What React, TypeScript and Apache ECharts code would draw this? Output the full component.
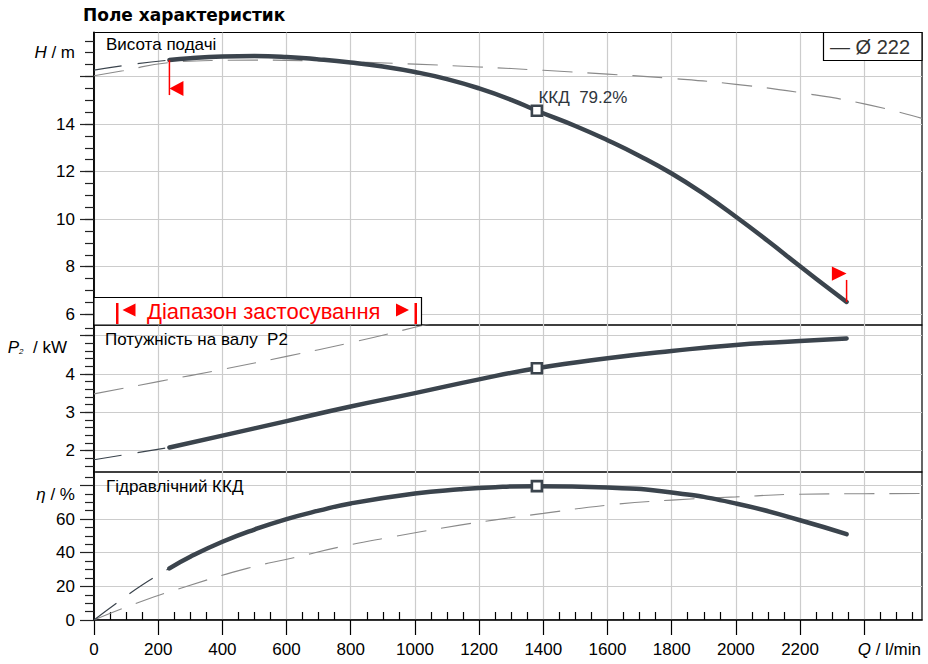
import React, { useEffect, useRef } from "react";
import * as echarts from "echarts";

// ---------- texts ----------
const TITLE = "Поле характеристик";
const PANEL_H = "Висота подачі";
const PANEL_P = "Потужність на валу  P2";
const PANEL_ETA = "Гідравлічний ККД";
const RANGE_TEXT = "Діапазон застосування";
const LEGEND_TEXT = "— Ø 222";
const BEP_TEXT = "ККД  79.2%";

// ---------- axes ----------
const Q_MIN = 0;
const Q_MAX = 2580;
const qTickLabels = [0, 200, 400, 600, 800, 1000, 1200, 1400, 1600, 1800, 2000, 2200];
const qMajorTicks = [0, 200, 400, 600, 800, 1000, 1200, 1400, 1600, 1800, 2000, 2200, 2400];
const qMinorTicks = [
  50, 100, 150, 250, 300, 350, 450, 500, 550, 650, 700, 750, 850, 900, 950, 1050, 1100, 1150,
  1250, 1300, 1350, 1450, 1500, 1550, 1650, 1700, 1750, 1850, 1900, 1950, 2050, 2100, 2150,
  2250, 2300, 2350, 2450, 2500, 2550,
];

const H_MIN = 5.55;
const H_MAX = 17.85;
const hTickLabels = [6, 8, 10, 12, 14];
const hMajorTicks = [6, 8, 10, 12, 14, 16];
const hMinorTicks = [6, 6.5, 7, 7.5, 8, 8.5, 9, 9.5, 10, 10.5, 11, 11.5, 12, 12.5, 13, 13.5, 14, 14.5, 15, 15.5, 16, 16.5, 17, 17.5];

const P_MIN = 1.44;
const P_MAX = 5.28;
const pTickLabels = [2, 3, 4];
const pMajorTicks = [2, 3, 4, 5];
const pMinorTicks = [1.6, 1.8, 2, 2.2, 2.4, 2.6, 2.8, 3, 3.2, 3.4, 3.6, 3.8, 4, 4.2, 4.4, 4.6, 4.8, 5, 5.2];

const ETA_MIN = 0;
const ETA_MAX = 88;
const etaTickLabels = [0, 20, 40, 60];
const etaMajorTicks = [0, 20, 40, 60, 80];
const etaMinorTicks = [5, 10, 15, 25, 30, 35, 45, 50, 55, 65, 70, 75, 85];

// ---------- data: head H (m) ----------
const hSolidQ = [235, 300, 400, 500, 600, 700, 800, 900, 1000, 1100, 1200, 1300, 1380, 1500, 1600, 1700, 1800, 1900, 2000, 2100, 2200, 2300, 2345];
const hSolidV = [16.69, 16.77, 16.84, 16.86, 16.82, 16.72, 16.59, 16.42, 16.19, 15.89, 15.5, 15.02, 14.56, 13.92, 13.32, 12.66, 11.92, 11.06, 10.1, 9.08, 8.02, 6.98, 6.52];
const hExtQ = [0, 120, 235];
const hExtV = [16.27, 16.51, 16.69];
const hLightQ = [0, 90, 230, 400, 500, 700, 1000, 1200, 1400, 1600, 1800, 2000, 2200, 2400, 2580];
const hLightV = [16.03, 16.24, 16.58, 16.68, 16.69, 16.65, 16.52, 16.4, 16.26, 16.1, 15.92, 15.67, 15.32, 14.85, 14.24];

// ---------- data: power P2 (kW) ----------
const pSolidQ = [235, 400, 600, 800, 1000, 1200, 1380, 1600, 1800, 2000, 2200, 2345];
const pSolidV = [2.08, 2.39, 2.77, 3.15, 3.5, 3.86, 4.15, 4.41, 4.6, 4.76, 4.86, 4.93];
const pExtQ = [0, 235];
const pExtV = [1.76, 2.08];
const pLightQ = [0, 200, 400, 600, 800, 1000, 1100];
const pLightV = [3.48, 3.8, 4.12, 4.46, 4.82, 5.22, 5.43];

// ---------- data: efficiency eta (%) ----------
const etaSolidQ = [235, 300, 400, 500, 600, 700, 800, 1000, 1140, 1250, 1380, 1600, 1800, 2000, 2200, 2345];
const etaSolidV = [30.7, 37.6, 46.5, 53.8, 60.0, 65.0, 69.3, 75.2, 77.7, 79.0, 79.6, 78.8, 75.8, 69.3, 59.3, 51.0];
const etaExtQ = [0, 77, 150, 235];
const etaExtV = [0, 10.9, 20.8, 30.7];
const etaLightQ = [0, 145, 285, 477, 622, 767, 913, 1140, 1245, 1400, 1600, 1800, 2000, 2200, 2400, 2580];
const etaLightV = [0, 10.9, 19.8, 30.7, 37.0, 43.5, 48.9, 56.4, 59.4, 63.4, 68.3, 71.3, 73.2, 74.8, 75.1, 75.2];

// best efficiency point
const bepQ = 1380;
const bepH = 14.56;
const bepP = 4.15;
const bepEta = 79.6;

const FONT = "'Liberation Sans', Arial, sans-serif";
const DARK = "#3b444d";
const LIGHT = "#8a8a8a";
const GRID_LINE = "#cccccc";
const RED = "#ff0000";

const zip = (xs: number[], ys: number[]) => xs.map((x, i) => [x, ys[i]]);

function mainX(gridIndex: number, bottom: boolean) {
  return {
    type: "value",
    gridIndex,
    min: Q_MIN,
    max: Q_MAX,
    interval: 200,
    axisLine: { show: bottom, onZero: false, lineStyle: { color: "#000", width: 1.5 } },
    axisTick: { show: bottom, customValues: qMajorTicks, length: 15, lineStyle: { color: "#000", width: 1.2 } },
    axisLabel: {
      show: bottom,
      customValues: qTickLabels,
      margin: 21,
      fontSize: 17,
      color: "#000",
      fontFamily: FONT,
      formatter: (v: number) => String(v),
    },
    splitLine: { show: true, lineStyle: { color: GRID_LINE, width: 1.2 } },
  };
}

function minorX(gridIndex: number) {
  return {
    type: "value",
    gridIndex,
    min: Q_MIN,
    max: Q_MAX,
    interval: 50,
    axisLine: { show: false },
    axisTick: { show: true, customValues: qMinorTicks, length: 8, lineStyle: { color: "#000", width: 1.2 } },
    axisLabel: { show: false },
    splitLine: { show: false },
  };
}

function mainY(gridIndex: number, min: number, max: number, labels: number[], major: number[], splitNumber: number) {
  return {
    type: "value",
    gridIndex,
    min,
    max,
    splitNumber,
    position: "left",
    axisLine: { show: true, onZero: false, lineStyle: { color: "#000", width: 1.8 } },
    axisTick: { show: true, customValues: major, length: 14, lineStyle: { color: "#222", width: 1.2 } },
    axisLabel: { customValues: labels, margin: 19, fontSize: 17, color: "#000", fontFamily: FONT, formatter: (v: number) => String(v) },
    splitLine: { show: true, lineStyle: { color: GRID_LINE, width: 1.2 } },
  };
}

function minorY(gridIndex: number, min: number, max: number, minor: number[]) {
  return {
    type: "value",
    gridIndex,
    min,
    max,
    position: "left",
    offset: 0,
    axisLine: { show: false },
    axisTick: { show: true, customValues: minor, length: 9, lineStyle: { color: "#222", width: 1.2 } },
    axisLabel: { show: false },
    splitLine: { show: false },
  };
}

function curveSet(xi: number, yi: number, solid: number[][], ext: number[][], light: number[][], bep: number[]) {
  return [
    {
      type: "line",
      xAxisIndex: xi,
      yAxisIndex: yi,
      data: light,
      symbol: "none",
      smooth: 0.5,
      silent: true,
      lineStyle: { color: LIGHT, width: 1.1, type: [30, 15] },
      z: 3,
    },
    {
      type: "line",
      xAxisIndex: xi,
      yAxisIndex: yi,
      data: ext,
      symbol: "none",
      smooth: 0.5,
      silent: true,
      lineStyle: { color: DARK, width: 1.2, type: [28, 16] },
      z: 4,
    },
    {
      type: "line",
      xAxisIndex: xi,
      yAxisIndex: yi,
      data: solid,
      symbol: "none",
      smooth: 0.5,
      silent: true,
      lineStyle: { color: DARK, width: 4.5, cap: "round", join: "round" },
      z: 5,
    },
    {
      type: "scatter",
      xAxisIndex: xi,
      yAxisIndex: yi,
      data: [bep],
      symbol: "rect",
      symbolSize: 10,
      silent: true,
      itemStyle: { color: "#ffffff", borderColor: DARK, borderWidth: 2.6, opacity: 1 },
      z: 6,
    },
  ];
}

const lastI = hSolidQ.length - 1;
const rangeEnds = [
  [hSolidQ[0], hSolidV[0], 0],
  [hSolidQ[lastI], hSolidV[lastI], 1],
];

const option: any = {
  animation: false,
  backgroundColor: "#ffffff",
  textStyle: { fontFamily: FONT },
  grid: [
    { left: 94, top: 32.5, width: 828, height: 292.5, show: true, borderColor: "#000", borderWidth: 1.2, outerBoundsMode: "none", containLabel: false },
    { left: 94, top: 325, width: 828, height: 147, show: true, borderColor: "#000", borderWidth: 1.2, outerBoundsMode: "none", containLabel: false },
    { left: 94, top: 472, width: 828, height: 148, show: true, borderColor: "#000", borderWidth: 1.2, outerBoundsMode: "none", containLabel: false },
  ],
  xAxis: [mainX(0, false), mainX(1, false), mainX(2, true), minorX(2)],
  yAxis: [
    mainY(0, H_MIN, H_MAX, hTickLabels, hMajorTicks, 6),
    minorY(0, H_MIN, H_MAX, hMinorTicks),
    mainY(1, P_MIN, P_MAX, pTickLabels, pMajorTicks, 5),
    minorY(1, P_MIN, P_MAX, pMinorTicks),
    mainY(2, ETA_MIN, ETA_MAX, etaTickLabels, etaMajorTicks, 5),
    minorY(2, ETA_MIN, ETA_MAX, etaMinorTicks),
  ],
  series: [
    ...curveSet(0, 0, zip(hSolidQ, hSolidV), zip(hExtQ, hExtV), zip(hLightQ, hLightV), [bepQ, bepH]),
    ...curveSet(1, 2, zip(pSolidQ, pSolidV), zip(pExtQ, pExtV), zip(pLightQ, pLightV), [bepQ, bepP]),
    ...curveSet(2, 4, zip(etaSolidQ, etaSolidV), zip(etaExtQ, etaExtV), zip(etaLightQ, etaLightV), [bepQ, bepEta]),
    {
      type: "custom",
      xAxisIndex: 0,
      yAxisIndex: 0,
      data: rangeEnds,
      silent: true,
      clip: false,
      z: 7,
      renderItem: (params: any, api: any) => {
        const p = api.coord([api.value(0), api.value(1)]);
        const side = api.value(2);
        const x = p[0];
        const y = p[1];
        if (side === 0) {
          return {
            type: "group",
            children: [
              { type: "line", shape: { x1: x, y1: y, x2: x, y2: y + 35 }, style: { stroke: RED, lineWidth: 1.5 } },
              { type: "polygon", shape: { points: [[x, y + 28.5], [x + 14, y + 21], [x + 14, y + 36]] }, style: { fill: RED } },
            ],
          };
        }
        return {
          type: "group",
          children: [
            { type: "line", shape: { x1: x, y1: y, x2: x, y2: y - 22 }, style: { stroke: RED, lineWidth: 1.5 } },
            { type: "polygon", shape: { points: [[x, y - 28.4], [x - 14.7, y - 35.5], [x - 14.7, y - 21.3]] }, style: { fill: RED } },
          ],
        };
      },
    },
    {
      // BEP label on head curve
      type: "custom",
      xAxisIndex: 0,
      yAxisIndex: 0,
      data: [[bepQ, bepH]],
      silent: true,
      clip: false,
      z: 8,
      renderItem: (params: any, api: any) => {
        const p = api.coord([api.value(0), api.value(1)]);
        return {
          type: "text",
          x: p[0] + 1.5,
          y: p[1] - 13,
          style: { text: BEP_TEXT, fill: "#2f363d", fontSize: 17, fontFamily: FONT, align: "left", verticalAlign: "middle" },
        };
      },
    },
  ],
  graphic: [
    {
      type: "text",
      x: 83,
      y: 15,
      z: 20,
      style: { text: TITLE, fill: "#000", font: "bold 17px 'DejaVu Sans', Verdana, sans-serif", align: "left", verticalAlign: "middle" },
    },
    // axis names
    {
      type: "text",
      x: 75,
      y: 52,
      z: 20,
      style: {
        text: "{i|H} / m",
        fill: "#000",
        fontSize: 17,
        fontFamily: FONT,
        align: "right",
        verticalAlign: "middle",
        rich: { i: { fontStyle: "italic", fontSize: 17, fontFamily: FONT } },
      },
    },
    {
      type: "text",
      x: 67,
      y: 347,
      z: 20,
      style: {
        text: "{i|P}{s|2}  / kW",
        fill: "#000",
        fontSize: 17,
        fontFamily: FONT,
        align: "right",
        verticalAlign: "middle",
        rich: {
          i: { fontStyle: "italic", fontSize: 17, fontFamily: FONT },
          s: { fontStyle: "italic", fontSize: 8, fontFamily: FONT, verticalAlign: "bottom" },
        },
      },
    },
    {
      type: "text",
      x: 75,
      y: 494,
      z: 20,
      style: {
        text: "{i|η} / %",
        fill: "#000",
        fontSize: 17,
        fontFamily: FONT,
        align: "right",
        verticalAlign: "middle",
        rich: { i: { fontStyle: "italic", fontSize: 17, fontFamily: FONT } },
      },
    },
    {
      type: "text",
      x: 921,
      y: 649,
      z: 20,
      style: {
        text: "{i|Q} / l/min",
        fill: "#000",
        fontSize: 17,
        fontFamily: FONT,
        align: "right",
        verticalAlign: "middle",
        rich: { i: { fontStyle: "italic", fontSize: 17, fontFamily: FONT } },
      },
    },
    // panel titles
    { type: "text", x: 106, y: 44, z: 20, style: { text: PANEL_H, fill: "#000", fontSize: 17, fontFamily: FONT, align: "left", verticalAlign: "middle" } },
    { type: "text", x: 105, y: 339, z: 20, style: { text: PANEL_P, fill: "#000", fontSize: 17, fontFamily: FONT, align: "left", verticalAlign: "middle" } },
    { type: "text", x: 106, y: 486, z: 20, style: { text: PANEL_ETA, fill: "#000", fontSize: 17, fontFamily: FONT, align: "left", verticalAlign: "middle" } },
    // range box
    { type: "rect", z: 20, shape: { x: 94, y: 297.5, width: 327.5, height: 27.5 }, style: { fill: "#ffffff", stroke: "#000", lineWidth: 1.2 } },
    { type: "rect", z: 21, shape: { x: 116, y: 303, width: 2.5, height: 21 }, style: { fill: RED } },
    { type: "rect", z: 21, shape: { x: 414.5, y: 303, width: 2.5, height: 21 }, style: { fill: RED } },
    { type: "polygon", z: 21, shape: { points: [[122.5, 310], [135.5, 303.5], [135.5, 316.5]] }, style: { fill: RED } },
    { type: "polygon", z: 21, shape: { points: [[409, 310], [396, 303.5], [396, 316.5]] }, style: { fill: RED } },
    { type: "text", x: 147, y: 311, z: 21, style: { text: RANGE_TEXT, fill: RED, fontSize: 22, fontFamily: FONT, align: "left", verticalAlign: "middle" } },
    // legend box
    { type: "rect", z: 20, shape: { x: 823.5, y: 32.5, width: 98.5, height: 28 }, style: { fill: "#ffffff", stroke: "#000", lineWidth: 1.2 } },
    { type: "text", x: 830, y: 47, z: 21, style: { text: LEGEND_TEXT, fill: "#333", fontSize: 20, fontFamily: FONT, align: "left", verticalAlign: "middle" } },
  ],
};

export default function App() {
  const ref = useRef<HTMLDivElement>(null);
  useEffect(() => {
    if (!ref.current) return;
    const chart = echarts.init(ref.current, null, { renderer: "svg" });
    chart.setOption(option);
    return () => chart.dispose();
  }, []);
  return <div ref={ref} style={{ position: "absolute", left: 0, top: 0, width: 928, height: 664 }} />;
}
